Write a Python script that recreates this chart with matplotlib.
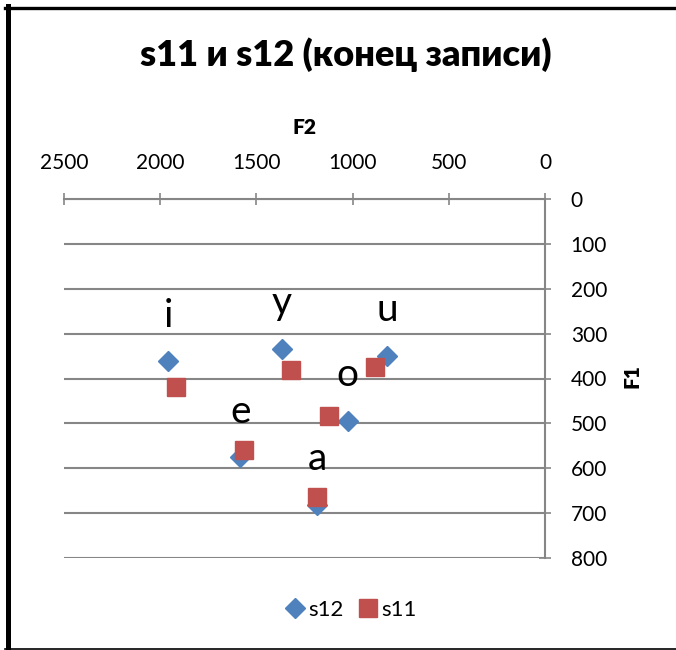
import matplotlib
matplotlib.use('Agg')
import matplotlib.pyplot as plt
from matplotlib.lines import Line2D

plt.rcParams['font.family'] = ['Lato', 'DejaVu Sans']

vowels = ['i', 'y', 'u', 'o', 'e', 'a']
s12_f2 = [1958, 1367, 820, 1025, 1584, 1184]
s12_f1 = [362, 334, 349, 495, 576, 681]
s11_f2 = [1919, 1320, 881, 1122, 1567, 1184]
s11_f1 = [419, 382, 374, 484, 559, 664]

x_ticks = [2500, 2000, 1500, 1000, 500, 0]
y_ticks = [0, 100, 200, 300, 400, 500, 600, 700, 800]

blue = '#4F81BD'
red = '#C0504D'
grey = '#868686'

W, H = 676, 650
fig = plt.figure(figsize=(W / 100, H / 100), dpi=100)
ax = fig.add_axes([64 / W, 1 - 558 / H, (545 - 64) / W, (558 - 199) / H])

ax.plot(s12_f2, s12_f1, 'D', color=blue, markersize=10, label='s12', zorder=3)
ax.plot(s11_f2, s11_f1, 's', color=red, markersize=13.5, label='s11', zorder=4)

for v, x, y in zip(vowels, s12_f2, s12_f1):
    ax.annotate(v, (x, y), xytext=(0, 33), textcoords='offset points',
                ha='center', va='center', fontsize=28, zorder=5)

ax.set_xlim(2500, 0)
ax.set_ylim(800, 0)
ax.set_xticks(x_ticks)
ax.set_yticks(y_ticks)
ax.xaxis.tick_top()
ax.yaxis.tick_right()
ax.tick_params(axis='both', direction='inout', length=9, width=1.2, color=grey,
               labelsize=15)
ax.tick_params(axis='x', pad=14)
ax.tick_params(axis='y', pad=14)
for s in ['left', 'bottom']:
    ax.spines[s].set_visible(False)
for s in ['top', 'right']:
    ax.spines[s].set_color(grey)
    ax.spines[s].set_linewidth(1.5)
ax.grid(axis='y', color=grey, linewidth=1.5)
ax.set_axisbelow(True)

fig.text(346 / W, 1 - 55 / H, 's11 и s12 (конец записи)', ha='center', va='center',
         fontsize=26, fontweight='heavy')
fig.text(305 / W, 1 - 127 / H, 'F2', ha='center', va='center',
         fontsize=15, fontweight='heavy')
fig.text(632 / W, 1 - 376 / H, 'F1', ha='center', va='center', rotation=90,
         fontsize=15, fontweight='heavy')

handles = [Line2D([], [], marker='D', color=blue, linestyle='none', markersize=10),
           Line2D([], [], marker='s', color=red, linestyle='none', markersize=13.5)]
fig.legend(handles, ['s12', 's11'], loc='center', bbox_to_anchor=(350 / W, 1 - 610 / H),
           ncol=2, frameon=False, fontsize=16, handletextpad=0.1, columnspacing=0.6,
           handlelength=1.0)

# chart border
fig.add_artist(Line2D([7.5 / W, 7.5 / W], [0, 1 - 6 / H], color='black', linewidth=3.6))
fig.add_artist(Line2D([5 / W, 1], [1 - 7.5 / H, 1 - 7.5 / H], color='black', linewidth=2.4))
fig.add_artist(Line2D([5 / W, 1], [1 - 648.5 / H, 1 - 648.5 / H], color='black', linewidth=1.2))

fig.savefig('out.png', dpi=100)
